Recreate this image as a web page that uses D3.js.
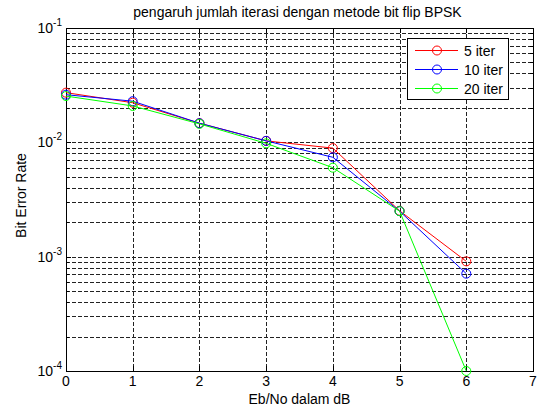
<!DOCTYPE html>
<html>
<head>
<meta charset="utf-8">
<script src="https://d3js.org/d3.v7.min.js"></script>
<style>
  body { margin: 0; background: #fff; }
  text { font-family: "Liberation Sans", Arial, sans-serif; fill: #000; }
</style>
</head>
<body>
<svg id="chart" width="539" height="409"></svg>
<script>
// data
const snr = [0, 1, 2, 3, 4, 5, 6];
const seriesNames = ["5 iter", "10 iter", "20 iter"];
const seriesColors = ["#ff0000", "#0000ff", "#00ff00"];
const ber5 = [0.0272, 0.0222, 0.0147, 0.0103, 0.0089, 0.00252, 0.00091];
const ber10 = [0.0261, 0.0229, 0.0147, 0.0103, 0.0074, 0.00250, 0.00071];
const ber20 = [0.0254, 0.0208, 0.0145, 0.0098, 0.0060, 0.00250, 0.0001];
const xTicks = [0, 1, 2, 3, 4, 5, 6, 7];
const yDecades = [-1, -2, -3, -4];

const margin = {top: 28, right: 6, bottom: 38, left: 66};
const svg = d3.select("#chart");
const W = 539, H = 409;
const w = W - margin.left - margin.right, h = H - margin.top - margin.bottom;

const x = d3.scaleLinear().domain([0, 7]).range([0, w]);
const y = d3.scaleLog().domain([1e-4, 1e-1]).range([h, 0]);

const g = svg.append("g").attr("transform", "translate(" + margin.left + "," + margin.top + ")");

// grid: x majors, y majors + minors
var yGrid = [];
for (var e = -4; e < -1; e++) {
  for (var m = 1; m <= 9; m++) yGrid.push(m * Math.pow(10, e));
}
g.selectAll(".ygrid").data(yGrid.filter(function(v) { return v > 1e-4; }))
  .enter().append("line")
  .attr("x1", 0).attr("x2", w)
  .attr("y1", function(d) { return Math.round(y(d)) + 0.5; })
  .attr("y2", function(d) { return Math.round(y(d)) + 0.5; })
  .attr("stroke", "#222").attr("stroke-width", 1).attr("stroke-dasharray", "4,2");
g.selectAll(".xgrid").data(xTicks.slice(1, -1))
  .enter().append("line")
  .attr("x1", function(d) { return Math.round(x(d)) + 0.5; })
  .attr("x2", function(d) { return Math.round(x(d)) + 0.5; })
  .attr("y1", 0).attr("y2", h)
  .attr("stroke", "#222").attr("stroke-width", 1).attr("stroke-dasharray", "4,2");

// box
g.append("rect").attr("x", 0.5).attr("y", 0.5).attr("width", w).attr("height", h)
  .attr("fill", "none").attr("stroke", "#000").attr("stroke-width", 1);

// ticks inside
g.selectAll(".xt").data(xTicks).enter().append("path")
  .attr("d", function(d) { var px = Math.round(x(d)) + 0.5; return "M" + px + "," + h + "v-5M" + px + ",0v5"; })
  .attr("stroke", "#000");
g.selectAll(".yt").data(yGrid.concat([0.1])).enter().append("path")
  .attr("d", function(d) {
    var py = Math.round(y(d)) + 0.5;
    var len = Math.abs(Math.log10(d) - Math.round(Math.log10(d))) < 1e-9 ? 5 : 3;
    return "M0," + py + "h" + len + "M" + w + "," + py + "h-" + len;
  })
  .attr("stroke", "#000");

// x tick labels
g.selectAll(".xl").data(xTicks).enter().append("text")
  .attr("x", function(d) { return x(d); }).attr("y", h + 15)
  .attr("text-anchor", "middle").attr("font-size", 14)
  .text(function(d) { return d; });

// y tick labels 10^e
yDecades.forEach(function(e) {
  var t = g.append("text").attr("x", -4).attr("y", y(Math.pow(10, e)) + 5)
    .attr("text-anchor", "end").attr("font-size", 14);
  t.append("tspan").text("10");
  t.append("tspan").attr("dy", -7).attr("font-size", 10).text(e);
});

// axis labels and title
g.append("text").attr("x", w / 2).attr("y", h + 33).attr("text-anchor", "middle")
  .attr("font-size", 14).text("Eb/No dalam dB");
g.append("text").attr("transform", "translate(-40," + (h / 2 - 4) + ") rotate(-90)")
  .attr("text-anchor", "middle").attr("font-size", 14).text("Bit Error Rate");
g.append("text").attr("x", w / 2 - 2).attr("y", -11).attr("text-anchor", "middle")
  .attr("font-size", 14).text("pengaruh jumlah iterasi dengan metode bit flip BPSK");

// series
const allSeries = [ber5, ber10, ber20];
const line = d3.line().x(function(d, i) { return x(snr[i]); }).y(function(d) { return y(d); });
allSeries.forEach(function(s, k) {
  g.append("path").datum(s).attr("d", line)
    .attr("fill", "none").attr("stroke", seriesColors[k]).attr("stroke-width", 1);
  g.selectAll(".m" + k).data(s).enter().append("circle")
    .attr("cx", function(d, i) { return x(snr[i]); })
    .attr("cy", function(d) { return y(d); })
    .attr("r", 4.5).attr("fill", "none")
    .attr("stroke", seriesColors[k]).attr("stroke-width", 1);
});

// legend
const lg = g.append("g").attr("transform", "translate(" + (407 - margin.left) + "," + (38 - margin.top) + ")");
lg.append("rect").attr("x", 0.5).attr("y", 0.5).attr("width", 101).attr("height", 61)
  .attr("fill", "#fff").attr("stroke", "#000");
seriesNames.forEach(function(name, k) {
  var yy = 12.5 + k * 19;
  lg.append("line").attr("x1", 8).attr("x2", 51).attr("y1", yy).attr("y2", yy)
    .attr("stroke", seriesColors[k]);
  lg.append("circle").attr("cx", 30).attr("cy", yy).attr("r", 4.5)
    .attr("fill", "none").attr("stroke", seriesColors[k]);
  lg.append("text").attr("x", 57).attr("y", yy + 5).attr("font-size", 14).text(name);
});
</script>
</body>
</html>
